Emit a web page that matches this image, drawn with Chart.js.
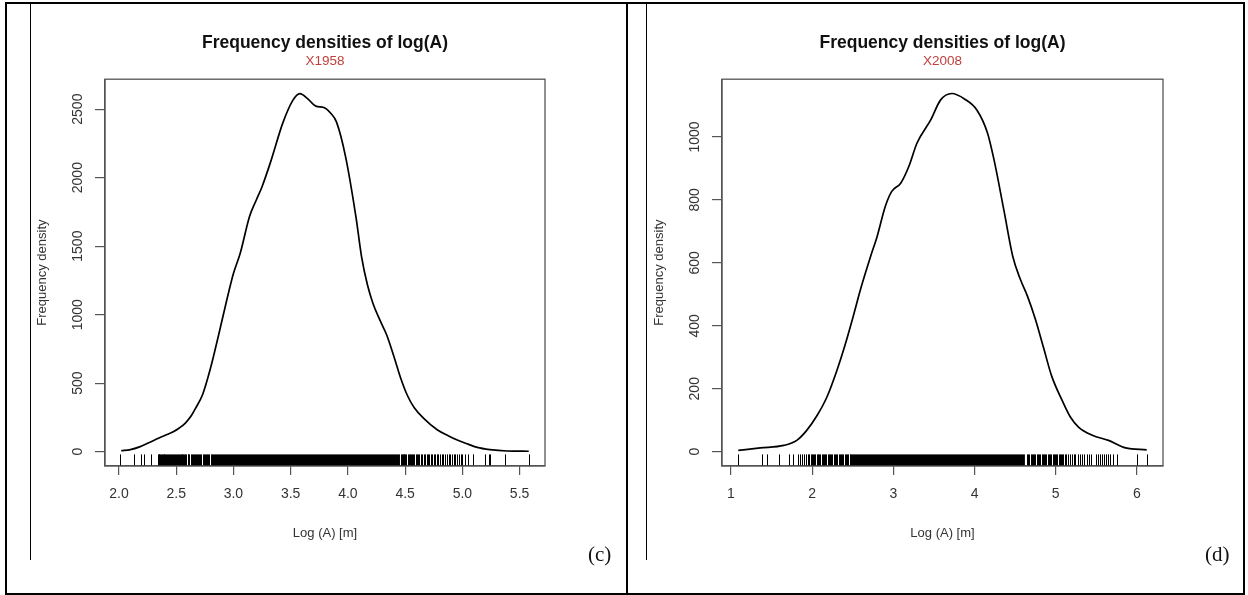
<!DOCTYPE html>
<html>
<head>
<meta charset="utf-8">
<script src="https://cdn.jsdelivr.net/npm/chart.js@4.4.1/dist/chart.umd.min.js"></script>
<style>
  body { margin: 0; background: #fff; }
  #page { position: relative; width: 1248px; height: 595px; overflow: hidden; background: #fff; }
  .panel { position: absolute; top: 0; width: 624px; height: 595px; }
  .rule { position: absolute; background: #000; }
  .tag { position: absolute; font-family: "Liberation Serif", serif; font-size: 21px; line-height: 1; color: #111; }
</style>
</head>
<body>
<div id="page">
  <canvas id="c1958" class="panel" style="left:0" width="624" height="595"></canvas>
  <canvas id="c2008" class="panel" style="left:624px" width="624" height="595"></canvas>

  <!-- figure frame -->
  <div class="rule" style="left:5px;top:2px;width:1240px;height:2px"></div>
  <div class="rule" style="left:5px;top:593px;width:1240px;height:2px"></div>
  <div class="rule" style="left:5px;top:2px;width:2px;height:593px"></div>
  <div class="rule" style="left:1243px;top:2px;width:2px;height:593px"></div>
  <div class="rule" style="left:626px;top:2px;width:2px;height:593px"></div>
  <div class="rule" style="left:30px;top:4px;width:1px;height:556px"></div>
  <div class="rule" style="left:646px;top:4px;width:1px;height:556px"></div>

  <div class="tag" style="left:588px;top:544px">(c)</div>
  <div class="tag" style="left:1205px;top:544px">(d)</div>
</div>
<script>
// ── X1958 ─────────────────────────────────────────────────────────────
const x1958 = [2.02, 2.10, 2.18, 2.26, 2.35, 2.42, 2.47, 2.53, 2.58, 2.63, 2.67, 2.73, 2.80, 2.87, 2.94,
  3.00, 3.06, 3.14, 3.20, 3.25, 3.33, 3.43, 3.52, 3.58, 3.65, 3.72, 3.79, 3.85, 3.90, 3.98,
  4.07, 4.12, 4.17, 4.22, 4.28, 4.34, 4.40, 4.46, 4.52, 4.58, 4.66, 4.78, 4.88, 4.95, 5.05,
  5.13, 5.24, 5.39, 5.58];
const dens1958 = [7, 15, 35, 65, 100, 125, 143, 175, 209, 260, 318, 415, 610, 850, 1100,
  1300, 1450, 1715, 1837, 1934, 2128, 2396, 2566, 2614, 2575, 2522, 2512, 2470, 2407, 2152,
  1715, 1420, 1220, 1080, 960, 850, 700, 540, 410, 320, 245, 160, 115, 87, 55,
  31, 15, 5, 3];
const rug1958 = [2.01, 2.13, 2.19, 2.22, 2.28,
  2.340, 2.347, 2.353, 2.360, 2.368, 2.375, 2.382, 2.390, 2.397, 2.405, 2.412, 2.420, 2.428, 2.436,
  2.444, 2.452, 2.460, 2.470, 2.480, 2.490, 2.500, 2.507, 2.515, 2.522, 2.530, 2.540, 2.548, 2.555,
  2.563, 2.570, 2.580, 2.590, 2.600, 2.607, 2.615, 2.625, 2.635, 2.645, 2.655, 2.662, 2.670, 2.680,
  2.690, 2.700, 2.710, 2.720, 2.730, 2.740, 2.750, 2.760, 2.770, 2.780, 2.790, 2.800, 2.810,
  4.462, 4.470, 4.478, 4.486, 4.494, 4.502, 4.512, 4.522, 4.530, 4.540, 4.550, 4.560, 4.570, 4.580,
  4.592, 4.604, 4.615, 4.625, 4.637, 4.650, 4.662, 4.675, 4.688, 4.700, 4.712, 4.725, 4.738, 4.750,
  4.763, 4.776, 4.790, 4.805, 4.820, 4.835, 4.850, 4.865, 4.880, 4.895, 4.910, 4.925, 4.940, 4.955,
  4.970, 4.985, 5.00, 5.02, 5.05, 5.09, 5.20, 5.23, 5.24, 5.37, 5.58];
const rugBand1958 = [[2.82, 4.455]];
const xTicks1958 = [2.0, 2.5, 3.0, 3.5, 4.0, 4.5, 5.0, 5.5];
const xLabels1958 = ['2.0', '2.5', '3.0', '3.5', '4.0', '4.5', '5.0', '5.5'];
const yTicks1958 = [0, 500, 1000, 1500, 2000, 2500];

// ── X2008 ─────────────────────────────────────────────────────────────
const x2008 = [1.09, 1.36, 1.65, 1.81, 1.93, 2.06, 2.18, 2.30, 2.40, 2.50, 2.60, 2.72, 2.80, 2.90, 2.98,
  3.09, 3.19, 3.29, 3.46, 3.58, 3.72, 3.88, 4.03, 4.16, 4.24, 4.36, 4.47, 4.56, 4.65, 4.75,
  4.85, 4.95, 5.08, 5.18, 5.28, 5.45, 5.65, 5.86, 6.12];
const dens2008 = [4, 12, 20, 36, 67, 115, 173, 255, 335, 425, 520, 621, 684, 779, 827,
  853, 906, 980, 1054, 1117, 1138, 1120, 1085, 1012, 927, 769, 621, 550, 495, 420,
  330, 240, 162, 110, 78, 52, 36, 12, 6];
const rug2008 = [1.09, 1.38, 1.44, 1.59, 1.71, 1.76, 1.82, 1.85, 1.88, 1.90, 1.92,
  1.950, 1.965, 1.980, 1.995, 2.010, 2.025, 2.040, 2.055, 2.070, 2.085, 2.100, 2.115, 2.130, 2.145,
  2.160, 2.175, 2.190, 2.205, 2.220, 2.235, 2.250, 2.265, 2.280, 2.295, 2.310, 2.325, 2.340, 2.355,
  2.370, 2.385, 2.400, 2.415, 2.430, 2.445, 2.460,
  4.640, 4.660, 4.675, 4.690, 4.705, 4.720, 4.735, 4.750, 4.765, 4.780, 4.795, 4.810, 4.825, 4.840,
  4.855, 4.870, 4.885, 4.900, 4.915, 4.930, 4.945, 4.960, 4.975, 4.990, 5.005, 5.020, 5.035, 5.050,
  5.065, 5.080, 5.095, 5.110, 5.13, 5.15, 5.18, 5.20, 5.22, 5.24, 5.27, 5.30, 5.32, 5.35, 5.38,
  5.41, 5.44, 5.50, 5.52, 5.54, 5.57, 5.59, 5.62, 5.64, 5.67, 5.70, 5.75, 6.00, 6.12];
const rugBand2008 = [[2.47, 4.62]];
const xTicks2008 = [1, 2, 3, 4, 5, 6];
const xLabels2008 = ['1', '2', '3', '4', '5', '6'];
const yTicks2008 = [0, 200, 400, 600, 800, 1000];

const FONT = '"Liberation Sans", Arial, Helvetica, sans-serif';
const AXIS = '#555';

// rug marks along the bottom of the plot box (3% of its height)
function rugPlugin(ticks, bands) {
  return {
    id: 'rug',
    afterDatasetsDraw(chart) {
      const { ctx, chartArea: a, scales: { x } } = chart;
      const top = a.bottom - (a.bottom - a.top) * 0.03;
      ctx.save();
      ctx.fillStyle = '#000';
      bands.forEach(([from, to]) => {
        const x0 = x.getPixelForValue(from), x1 = x.getPixelForValue(to);
        ctx.fillRect(x0, top, x1 - x0, a.bottom - top);
      });
      ctx.strokeStyle = '#000';
      ctx.lineWidth = 1;
      ctx.beginPath();
      ticks.forEach(v => {
        const px = Math.round(x.getPixelForValue(v)) + 0.5;
        ctx.moveTo(px, top);
        ctx.lineTo(px, a.bottom);
      });
      ctx.stroke();
      ctx.restore();
    },
  };
}

const boxPlugin = {
  id: 'plotBox',
  afterDraw(chart) {
    const { ctx, chartArea: a } = chart;
    ctx.save();
    ctx.strokeStyle = AXIS;
    ctx.lineWidth = 1.3;
    ctx.strokeRect(a.left, a.top, a.right - a.left, a.bottom - a.top);
    ctx.restore();
  },
};

function densityChart(id, cfg) {
  const { xs, ys, rug, bands, xTicks, xLabels, yTicks, xMin, xMax, yMin, yMax, sub, left, right, yTitlePad } = cfg;
  return new Chart(document.getElementById(id), {
    type: 'line',
    data: {
      datasets: [{
        data: xs.map((x, i) => ({ x, y: ys[i] })),
        borderColor: '#000',
        borderWidth: 1.7,
        pointRadius: 0,
        cubicInterpolationMode: 'monotone',
        fill: false,
      }],
    },
    options: {
      responsive: false,
      animation: false,
      layout: { padding: { left: 0, right: 624 - right, top: 0, bottom: 0 } },
      plugins: {
        legend: { display: false },
        tooltip: { enabled: false },
        title: {
          display: true, text: 'Frequency densities of log(A)', fullSize: false,
          color: '#111', font: { family: FONT, size: 17.5, weight: 'bold' },
          padding: { top: 32.5, bottom: 0 },
        },
        subtitle: {
          display: true, text: sub, fullSize: false,
          color: '#c0403c', font: { family: FONT, size: 13.5 },
          padding: { top: 0, bottom: 9.5 },
        },
      },
      scales: {
        x: {
          type: 'linear', min: xMin, max: xMax,
          afterBuildTicks: s => { s.ticks = xTicks.map(value => ({ value })); },
          afterFit: s => { s.height = 595 - 466; },
          ticks: {
            autoSkip: false, maxRotation: 0, padding: 11,
            color: '#333', font: { family: FONT, size: 14 },
            callback: (v, i) => xLabels[i],
          },
          grid: { drawOnChartArea: false, drawTicks: true, tickLength: 9, color: AXIS, lineWidth: 1.2 },
          border: { display: true, color: AXIS, width: 1.3 },
          title: {
            display: true, text: 'Log (A) [m]', color: '#333',
            font: { family: FONT, size: 13 }, padding: { top: 0, bottom: 54.2 },
          },
        },
        y: {
          type: 'linear', min: yMin, max: yMax,
          afterBuildTicks: s => { s.ticks = yTicks.map(value => ({ value })); },
          afterFit: s => { s.width = left; },
          ticks: {
            autoSkip: false, minRotation: 90, maxRotation: 90, crossAlign: 'center', padding: 1.5,
            color: '#333', font: { family: FONT, size: 14 },
            callback: v => String(v),
          },
          grid: { drawOnChartArea: false, drawTicks: true, tickLength: 10, color: AXIS, lineWidth: 1.2 },
          border: { display: true, color: AXIS, width: 1.3 },
          title: {
            display: true, text: 'Frequency density', color: '#333',
            font: { family: FONT, size: 13 }, padding: { top: yTitlePad, bottom: 0 },
          },
        },
      },
    },
    plugins: [rugPlugin(rug, bands), boxPlugin],
  });
}

densityChart('c1958', {
  xs: x1958, ys: dens1958, rug: rug1958, bands: rugBand1958,
  xTicks: xTicks1958, xLabels: xLabels1958, yTicks: yTicks1958,
  xMin: 1.878, xMax: 5.722, yMin: -104.6, yMax: 2718.6,
  sub: 'X1958', left: 105, right: 545, yTitlePad: 34.2,
});

densityChart('c2008', {
  xs: x2008, ys: dens2008, rug: rug2008, bands: rugBand2008,
  xTicks: xTicks2008, xLabels: xLabels2008, yTicks: yTicks2008,
  xMin: 0.889, xMax: 6.321, yMin: -45.5, yMax: 1183.5,
  sub: 'X2008', left: 98, right: 539, yTitlePad: 27.2,
});
</script>
</body>
</html>
